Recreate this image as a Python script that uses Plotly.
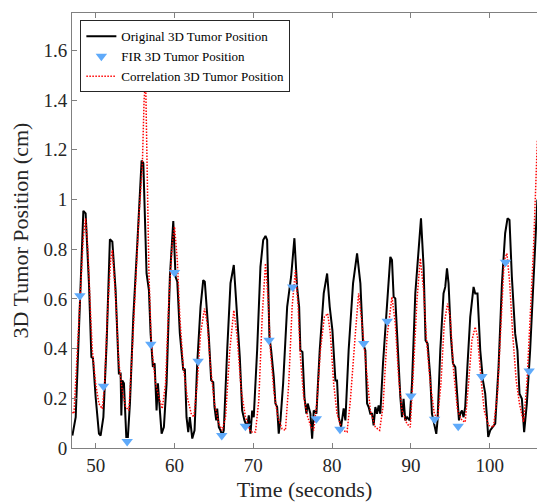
import plotly.graph_objects as go

# Original 3D tumor position (black)
orig_t = [47.05, 47.47, 48.44, 48.73, 49.15, 49.46, 49.66, 50.00, 50.42, 50.63, 50.98, 51.39, 51.81, 52.12,
          52.53, 52.95, 53.17, 53.26, 53.38, 53.59, 53.89, 54.09, 54.35, 54.78, 55.29, 55.83, 56.05, 56.46,
          56.76, 56.97, 57.26, 57.48, 57.73, 57.90, 58.15, 58.37, 58.66, 59.00, 59.42, 59.85, 60.14, 60.36,
          60.68, 61.12, 61.32, 61.53, 61.75, 61.95, 62.26, 62.55, 62.89, 63.31, 63.65, 63.85, 64.36, 64.66,
          64.92, 65.08, 65.30, 65.42, 65.63, 65.84, 66.06, 66.26, 66.69, 67.11, 67.53, 67.96, 68.29, 68.59,
          68.88, 69.23, 69.43, 69.65, 69.86, 70.06, 70.49, 70.91, 71.26, 71.55, 71.76, 72.05, 72.27, 72.60,
          72.81, 73.03, 73.23, 73.45, 73.79, 74.30, 74.80, 75.22, 75.56, 75.82, 75.98, 76.24, 76.49, 76.74,
          76.91, 77.25, 77.47, 77.67, 78.01, 78.43, 78.94, 79.37, 79.70, 80.04, 80.42, 80.63, 80.84, 81.14,
          81.47, 81.69, 82.10, 82.66, 83.17, 83.59, 83.93, 84.22, 84.44, 84.64, 84.85, 85.07, 85.27, 85.49,
          85.70, 85.91, 86.12, 86.46, 86.97, 87.39, 87.60, 87.81, 88.02, 88.31, 88.66, 88.87, 89.07, 89.29,
          89.51, 89.84, 90.14, 90.56, 90.98, 91.28, 91.61, 91.86, 92.12, 92.46, 92.67, 92.88, 93.09, 93.22,
          93.38, 93.73, 94.14, 94.36, 94.58, 94.78, 95.08, 95.34, 95.63, 95.85, 96.10, 96.26, 96.48, 96.68,
          96.89, 97.19, 97.53, 97.95, 98.16, 98.45, 98.80, 99.14, 99.43, 99.65, 99.81, 100.06, 100.41, 100.70,
          101.12, 101.55, 101.96, 102.26, 102.51, 102.81, 103.23, 103.52, 103.78, 104.08, 104.37, 104.71,
          105.13, 105.55, 105.98, 106.05]
orig_y = [0.050, 0.124, 0.954, 0.944, 0.663, 0.366, 0.361, 0.205, 0.058, 0.050, 0.124, 0.421, 0.840, 0.830,
          0.635, 0.300, 0.300, 0.131, 0.272, 0.260, 0.044, 0.044, 0.179, 0.527, 0.825, 1.156, 1.146, 0.702,
          0.635, 0.462, 0.326, 0.341, 0.151, 0.260, 0.151, 0.058, 0.084, 0.260, 0.689, 0.913, 0.689, 0.669,
          0.462, 0.313, 0.319, 0.124, 0.064, 0.124, 0.038, 0.071, 0.341, 0.568, 0.675, 0.669, 0.447, 0.272,
          0.265, 0.165, 0.111, 0.159, 0.084, 0.071, 0.050, 0.071, 0.393, 0.663, 0.736, 0.527, 0.366, 0.151,
          0.111, 0.084, 0.131, 0.058, 0.151, 0.124, 0.393, 0.729, 0.837, 0.853, 0.837, 0.447, 0.393, 0.285,
          0.179, 0.165, 0.058, 0.111, 0.260, 0.568, 0.689, 0.844, 0.648, 0.568, 0.393, 0.386, 0.205, 0.138,
          0.179, 0.138, 0.037, 0.151, 0.138, 0.393, 0.622, 0.702, 0.568, 0.474, 0.272, 0.272, 0.124, 0.084,
          0.159, 0.111, 0.393, 0.662, 0.783, 0.662, 0.420, 0.393, 0.179, 0.165, 0.138, 0.138, 0.091, 0.165,
          0.138, 0.171, 0.138, 0.340, 0.554, 0.769, 0.756, 0.608, 0.602, 0.393, 0.205, 0.124, 0.198, 0.111,
          0.124, 0.111, 0.259, 0.622, 0.796, 0.924, 0.729, 0.433, 0.420, 0.285, 0.138, 0.111, 0.084, 0.057,
          0.111, 0.393, 0.622, 0.648, 0.723, 0.662, 0.447, 0.340, 0.326, 0.219, 0.111, 0.138, 0.151, 0.124,
          0.165, 0.340, 0.527, 0.648, 0.622, 0.622, 0.393, 0.272, 0.219, 0.124, 0.044, 0.071, 0.084, 0.098,
          0.326, 0.662, 0.864, 0.924, 0.917, 0.689, 0.460, 0.393, 0.219, 0.198, 0.064, 0.178,
          0.393, 0.662, 0.938, 1.000]

# FIR 3D tumor position (blue triangles)
fir_t = [48, 51, 54, 57, 60, 63, 66, 69, 72, 75, 78, 81, 84, 87, 90, 93, 96, 99, 102, 105]
fir_y = [0.612, 0.248, 0.026, 0.417, 0.706, 0.349, 0.050, 0.088, 0.433, 0.648, 0.118, 0.075, 0.420, 0.510,
         0.209, 0.116, 0.088, 0.288, 0.747, 0.310]

# Correlation 3D tumor position (red dotted)
corr_t = [47.05, 47.25, 47.68, 48.10, 48.44, 48.73, 49.02, 49.28, 49.58, 50.00, 50.42, 50.85, 51.14, 51.48,
          51.90, 52.12, 52.53, 52.95, 53.38, 53.80, 54.22, 54.65, 55.07, 55.49, 55.92, 56.15, 56.34, 56.44,
          56.59, 56.76, 57.06, 57.60, 58.02, 58.45, 58.87, 59.29, 59.72, 60.01, 60.36, 60.68, 61.12, 61.62,
          62.13, 62.46, 62.89, 63.31, 63.81, 64.16, 64.58, 65.08, 65.63, 66.06, 66.48, 67.02, 67.53, 67.96,
          68.47, 69.01, 69.65, 70.28, 70.70, 71.13, 71.55, 71.89, 72.18, 72.60, 73.11, 73.66, 74.08, 74.50,
          74.93, 75.35, 75.69, 75.98, 76.40, 76.91, 77.34, 77.67, 78.10, 78.52, 79.02, 79.44, 79.78, 80.20,
          80.63, 81.27, 81.90, 82.32, 82.95, 83.37, 83.80, 84.22, 84.64, 84.85, 85.49, 86.03, 86.46, 86.97,
          87.60, 88.02, 88.44, 88.87, 89.49, 89.92, 90.34, 90.77, 91.19, 91.61, 91.95, 92.46, 92.97, 93.38,
          93.81, 94.23, 94.65, 94.99, 95.41, 95.92, 96.48, 96.89, 97.31, 97.74, 98.16, 98.45, 98.88, 99.30,
          99.85, 100.48, 100.99, 101.42, 101.84, 102.18, 102.51, 102.94, 103.36, 103.78, 104.29, 104.72,
          105.13, 105.55, 106.05]
corr_y = [0.144, 0.138, 0.393, 0.635, 0.850, 0.924, 0.796, 0.595, 0.393, 0.259, 0.178, 0.158, 0.259, 0.527,
          0.756, 0.796, 0.608, 0.340, 0.232, 0.165, 0.151, 0.393, 0.662, 0.931, 1.132, 1.401, 1.489, 1.320,
          0.998, 0.704, 0.421, 0.259, 0.205, 0.158, 0.259, 0.595, 0.823, 0.890, 0.756, 0.527, 0.326, 0.205,
          0.138, 0.124, 0.259, 0.460, 0.561, 0.501, 0.326, 0.178, 0.098, 0.071, 0.124, 0.393, 0.554, 0.447,
          0.232, 0.124, 0.064, 0.064, 0.192, 0.527, 0.743, 0.595, 0.393, 0.232, 0.124, 0.077, 0.071, 0.259,
          0.568, 0.716, 0.568, 0.366, 0.205, 0.124, 0.084, 0.071, 0.192, 0.393, 0.527, 0.541, 0.460, 0.259,
          0.138, 0.071, 0.064, 0.192, 0.460, 0.622, 0.501, 0.366, 0.232, 0.151, 0.084, 0.071, 0.165, 0.447,
          0.608, 0.501, 0.285, 0.151, 0.098, 0.084, 0.326, 0.595, 0.763, 0.635, 0.447, 0.259, 0.138, 0.118,
          0.259, 0.501, 0.581, 0.527, 0.313, 0.151, 0.111, 0.104, 0.259, 0.433, 0.487, 0.447, 0.285, 0.151,
          0.091, 0.084, 0.219, 0.501, 0.756, 0.783, 0.675, 0.447, 0.272, 0.178, 0.104, 0.259,
          0.527, 0.796, 1.240]

x_ticks = [50, 60, 70, 80, 90, 100]
y_ticks = [0, 0.2, 0.4, 0.6, 0.8, 1, 1.2, 1.4, 1.6]
y_tick_labels = ["0", "0.2", "0.4", "0.6", "0.8", "1", "1.2", "1.4", "1.6"]

FONT = "Liberation Serif"
TXT = "#262626"
AX = "#808080"

fig = go.Figure()
fig.add_trace(go.Scatter(x=orig_t, y=orig_y, mode="lines", name="Original 3D Tumor Position",
                         line=dict(color="black", width=2), legendrank=1))
fig.add_trace(go.Scatter(x=corr_t, y=corr_y, mode="lines", name="Correlation 3D Tumor Position",
                         line=dict(color="red", width=1.5, dash="1.5px,1.5px"), legendrank=3))
fig.add_trace(go.Scatter(x=fir_t, y=fir_y, mode="markers", name="FIR 3D Tumor Position",
                         marker=dict(symbol="triangle-down", size=10, color="rgb(95,170,250)",
                                     line=dict(width=0)), legendrank=2))

fig.update_layout(
    width=537, height=503,
    margin=dict(l=72, r=0, t=13, b=55),
    paper_bgcolor="white", plot_bgcolor="white",
    font=dict(family=FONT, color=TXT, size=19),
    showlegend=True,
    legend=dict(x=0.018, y=0.983, xanchor="left", yanchor="top",
                bgcolor="white", bordercolor="#262626", borderwidth=1,
                font=dict(family=FONT, size=13, color="black"),
                itemwidth=30, tracegroupgap=0),
    xaxis=dict(range=[47, 106], tickvals=x_ticks, ticks="inside", ticklen=5, tickcolor=AX,
               showline=True, linecolor=AX, linewidth=1, mirror="ticks", showgrid=False,
               zeroline=False, tickfont=dict(size=19, family=FONT, color=TXT),
               title=dict(text="Time (seconds)", font=dict(size=22, family=FONT, color=TXT), standoff=6)),
    yaxis=dict(range=[0, 1.75], tickvals=y_ticks, ticktext=y_tick_labels, ticks="inside", ticklen=5,
               tickcolor=AX, showline=True, linecolor=AX, linewidth=1, showgrid=False, zeroline=False,
               tickfont=dict(size=19, family=FONT, color=TXT),
               title=dict(text="3D Tumor Position (cm)", font=dict(size=22, family=FONT, color=TXT), standoff=8)),
)

fig.write_html("out.html")
